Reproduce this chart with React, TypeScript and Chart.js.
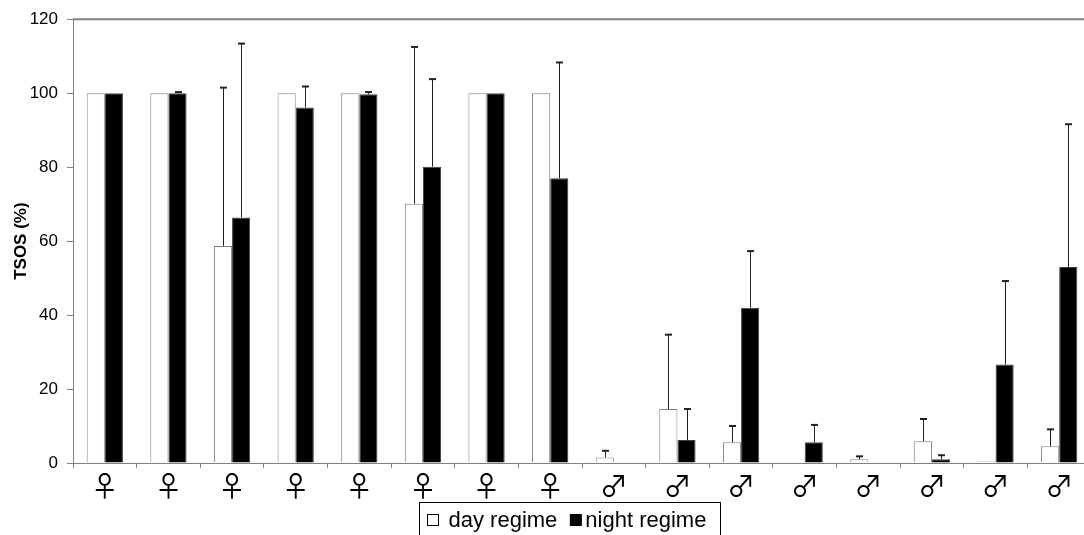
import React, { useEffect, useRef } from "react";
import { Chart, registerables } from "chart.js";

Chart.register(...registerables);

const categories = ["♀", "♀", "♀", "♀", "♀", "♀", "♀", "♀", "♂", "♂", "♂", "♂", "♂", "♂", "♂", "♂"];
const seriesLabels = ["day regime", "night regime"];
const dayValues = [100, 100, 58.7, 100, 100, 70.1, 100, 100, 1.5, 14.6, 5.6, 0, 1.0, 5.9, 0.4, 4.5];
const nightValues = [100, 100, 66.4, 96.1, 99.7, 80.1, 100, 77, 0, 6.2, 42, 5.6, 0, 1.0, 26.6, 53];
const dayErrTop = [null, null, 101.5, null, null, 112.5, null, null, 3.3, 34.7, 10.0, null, 1.8, 11.9, null, 9.1];
const nightErrTop = [null, 100.3, 113.4, 101.8, 100.3, 103.8, null, 108.3, null, 14.6, 57.3, 10.3, null, 2.1, 49.2, 91.6];
const yTicks = [0, 20, 40, 60, 80, 100, 120];

const errorBars = [dayErrTop, nightErrTop];

const errorBarPlugin = {
  id: "errorBars",
  afterDatasetsDraw(chart: any) {
    const ctx = chart.ctx;
    const yScale = chart.scales.y;
    ctx.save();
    errorBars.forEach((errs, di) => {
      const meta = chart.getDatasetMeta(di);
      meta.data.forEach((el: any, j: number) => {
        const e = errs[j];
        if (e == null) return;
        const x = Math.round(el.x) + 0.5;
        const yTop = yScale.getPixelForValue(e);
        ctx.strokeStyle = "#222";
        ctx.lineWidth = 1;
        ctx.beginPath();
        ctx.moveTo(x, el.y);
        ctx.lineTo(x, yTop);
        ctx.stroke();
        ctx.lineWidth = 2;
        ctx.beginPath();
        ctx.moveTo(x - 3.5, yTop);
        ctx.lineTo(x + 3.5, yTop);
        ctx.stroke();
      });
    });
    ctx.restore();
  },
};

const frameLegendPlugin = {
  id: "frameLegend",
  afterDraw(chart: any) {
    const ctx = chart.ctx;
    const area = chart.chartArea;
    ctx.save();
    // top border of plot area
    ctx.strokeStyle = "#808080";
    ctx.lineWidth = 2;
    ctx.beginPath();
    ctx.moveTo(area.left, area.top);
    ctx.lineTo(area.right, area.top);
    ctx.stroke();

    // legend
    const boxLeft = 419.5;
    const boxTop = 502.5;
    ctx.lineWidth = 1;
    ctx.strokeStyle = "#000";
    ctx.font = '22px "Liberation Sans", Arial, sans-serif';
    ctx.textBaseline = "alphabetic";
    let x = 427.5;
    const sq = 11;
    const sqTop = 514.5;
    const baseline = 527;
    // item 1
    ctx.fillStyle = "#fff";
    ctx.fillRect(x, sqTop, sq, sq);
    ctx.strokeRect(x, sqTop, sq, sq);
    x += sq + 10;
    ctx.fillStyle = "#000";
    ctx.fillText(seriesLabels[0], x, baseline);
    x += ctx.measureText(seriesLabels[0]).width + 13;
    // item 2
    ctx.fillRect(x, sqTop, sq, sq);
    ctx.strokeRect(x, sqTop, sq, sq);
    x += sq + 4;
    ctx.fillText(seriesLabels[1], x, baseline);
    x += ctx.measureText(seriesLabels[1]).width + 14;
    ctx.strokeRect(boxLeft, boxTop, Math.round(x - boxLeft), 60);
    ctx.restore();
  },
};

export default function App() {
  const ref = useRef<HTMLCanvasElement>(null);
  useEffect(() => {
    if (!ref.current) return;
    const chart = new Chart(ref.current, {
      type: "bar",
      data: {
        labels: categories,
        datasets: [
          {
            label: seriesLabels[0],
            data: dayValues,
            backgroundColor: "#ffffff",
            borderColor: "#808080",
            borderWidth: 1,
            borderSkipped: "start",
          },
          {
            label: seriesLabels[1],
            data: nightValues,
            backgroundColor: "#000000",
            borderColor: "#404040",
            borderWidth: 1,
            borderSkipped: "start",
          },
        ],
      },
      options: {
        responsive: false,
        animation: false,
        layout: { padding: { left: 0, top: 17, right: 9, bottom: 0 } },
        datasets: { bar: { categoryPercentage: 0.57, barPercentage: 1 } },
        plugins: {
          legend: { display: false },
          tooltip: { enabled: false },
        },
        scales: {
          x: {
            offset: true,
            afterFit(scale: any) {
              scale.height = 72;
            },
            grid: {
              display: true,
              offset: true,
              drawOnChartArea: false,
              drawTicks: true,
              tickLength: 5,
              color: "#808080",
            },
            border: { display: true, color: "#808080", width: 1 },
            ticks: {
              color: "#000",
              font: { family: '"Noto Sans CJK JP", "DejaVu Sans"', size: 28, lineHeight: 1 },
              padding: 4,
              maxRotation: 0,
              autoSkip: false,
            },
          },
          y: {
            min: 0,
            max: 120,
            afterFit(scale: any) {
              scale.width = 73;
            },
            afterBuildTicks(scale: any) {
              scale.ticks = yTicks.map((v) => ({ value: v }));
            },
            grid: {
              display: true,
              drawOnChartArea: false,
              drawTicks: true,
              tickLength: 6,
              color: "#808080",
            },
            border: { display: true, color: "#808080", width: 1 },
            ticks: {
              color: "#000",
              font: { family: '"Liberation Sans", Arial', size: 17 },
              padding: 9,
            },
            title: {
              display: true,
              text: "TSOS (%)",
              color: "#000",
              font: { family: '"Liberation Sans", Arial', size: 17, weight: "bold" },
              padding: { top: 11, bottom: 0 },
            },
          },
        },
      },
      plugins: [errorBarPlugin, frameLegendPlugin],
    });
    return () => chart.destroy();
  }, []);
  return (
    <div
      style={{
        position: "absolute",
        left: 0,
        top: 0,
        width: 1084,
        height: 535,
        overflow: "hidden",
        background: "#fff",
      }}
    >
      <canvas ref={ref} width={1100} height={535} style={{ display: "block" }} />
    </div>
  );
}
